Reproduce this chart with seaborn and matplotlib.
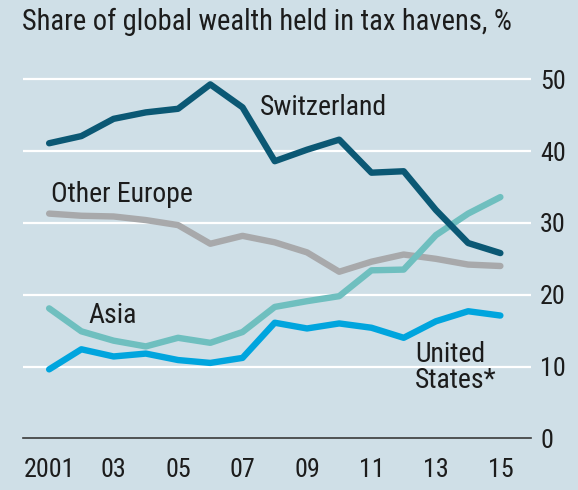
import matplotlib
matplotlib.use("Agg")
import matplotlib.pyplot as plt
from matplotlib import font_manager as fm
import seaborn as sns
import pandas as pd

years = list(range(2001, 2016))
switzerland = [41.1, 42.1, 44.5, 45.4, 45.9, 49.3, 46.1, 38.6, 40.2, 41.6, 37.0, 37.2, 31.8, 27.2, 25.8]
other_europe = [31.3, 31.0, 30.9, 30.4, 29.7, 27.1, 28.2, 27.3, 25.9, 23.2, 24.6, 25.6, 25.0, 24.2, 24.0]
asia = [18.1, 14.9, 13.6, 12.8, 14.0, 13.3, 14.8, 18.3, 19.1, 19.8, 23.4, 23.5, 28.3, 31.3, 33.6]
united_states = [9.6, 12.4, 11.4, 11.8, 10.9, 10.5, 11.2, 16.1, 15.3, 16.0, 15.4, 14.0, 16.3, 17.7, 17.1]

x_ticks = [2001, 2003, 2005, 2007, 2009, 2011, 2013, 2015]
x_tick_labels = ["2001", "03", "05", "07", "09", "11", "13", "15"]
y_ticks = [0, 10, 20, 30, 40, 50]

df = pd.DataFrame({
    "year": years * 4,
    "share": switzerland + other_europe + asia + united_states,
    "region": ["Switzerland"] * 15 + ["Other Europe"] * 15 + ["Asia"] * 15 + ["United States"] * 15,
})

bg = "#cfdfe7"
ink = "#1c1c1c"
palette = {
    "Switzerland": "#0b5874",
    "Other Europe": "#a8a9ab",
    "Asia": "#6fbfbf",
    "United States": "#00a5de",
}

sns.set_style("white")

# look for a narrow face, the original uses a condensed sans
font = None
for f in fm.fontManager.ttflist:
    narrow = ("ondensed" in f.name or "arrow" in f.name
              or f.stretch in ("condensed", "semi-condensed", "extra-condensed"))
    if narrow and f.style == "normal" and f.weight in (400, "normal", "regular"):
        if font is None or "Noto Sans" in f.name or "Roboto" in f.name:
            font = f
if font is not None:
    fp = fm.FontProperties(fname=font.fname)
else:
    fp = fm.FontProperties(family="Roboto")
plt.rcParams["text.color"] = ink

fig = plt.figure(figsize=(5.78, 4.90), dpi=100, facecolor=bg)
ax = fig.add_axes([22.7 / 578, 1 - 438.3 / 490, (531 - 22.7) / 578, (438.3 - 65) / 490])
ax.set_facecolor(bg)

# grid lines drawn under the data
for v in y_ticks[1:]:
    ax.axhline(v, color="white", lw=1.6, zorder=1)

sns.lineplot(data=df, x="year", y="share", hue="region", palette=palette,
             hue_order=["Other Europe", "Asia", "United States", "Switzerland"],
             lw=4.6, legend=False, ax=ax, zorder=3)

ax.set_xlim(2000.18, 2015.95)
ax.set_ylim(0, 52)

ax.set_xticks(years, minor=True)
ax.set_xticks(x_ticks)
ax.set_xticklabels(x_tick_labels)
ax.yaxis.tick_right()
ax.set_yticks(y_ticks)
ax.set_yticklabels([str(v) for v in y_ticks])
ax.tick_params(axis="x", which="both", direction="in", length=6.5, width=1.0,
               color="#3a3a3a", pad=14, labelcolor=ink)
ax.tick_params(axis="y", length=0, pad=6.5, labelcolor=ink)
for s in ["top", "left", "right"]:
    ax.spines[s].set_visible(False)
ax.spines["bottom"].set_color("#3a3a3a")
ax.spines["bottom"].set_linewidth(1.2)
ax.set_xlabel("")
ax.set_ylabel("")

labels = [
    ax.text(2007.55, 45.0, "Switzerland", va="baseline", ha="left", fontproperties=fp),
    ax.text(2001.05, 32.95, "Other Europe", va="baseline", ha="left", fontproperties=fp),
    ax.text(2002.23, 16.0, "Asia", va="baseline", ha="left", fontproperties=fp),
    ax.text(2012.35, 10.67, "United", va="baseline", ha="left", fontproperties=fp),
    ax.text(2012.35, 7.0, "States*", va="baseline", ha="left", fontproperties=fp),
]
title = fig.text(22 / 578, 1 - 30 / 490, "Share of global wealth held in tax havens, %",
                 va="baseline", ha="left", fontproperties=fp)

for lab in ax.get_xticklabels() + ax.get_yticklabels():
    lab.set_fontproperties(fp)
for lab in ax.get_yticklabels():
    lab.set_horizontalalignment("left")

# size the fonts so the widths match the reference
fig.canvas.draw()
r = fig.canvas.get_renderer()
w = title.get_window_extent(r).width
title_size = title.get_fontsize() * 487 / w
title.set_fontsize(title_size)
w = labels[0].get_window_extent(r).width
label_size = labels[0].get_fontsize() * 127 / w
for t in labels:
    t.set_fontsize(label_size)
t2001 = ax.get_xticklabels()[0]
w = t2001.get_window_extent(r).width
tick_size = t2001.get_fontsize() * 51 / w
ax.tick_params(axis="both", labelsize=tick_size)

fig.savefig("out.png", dpi=100, facecolor=bg)
